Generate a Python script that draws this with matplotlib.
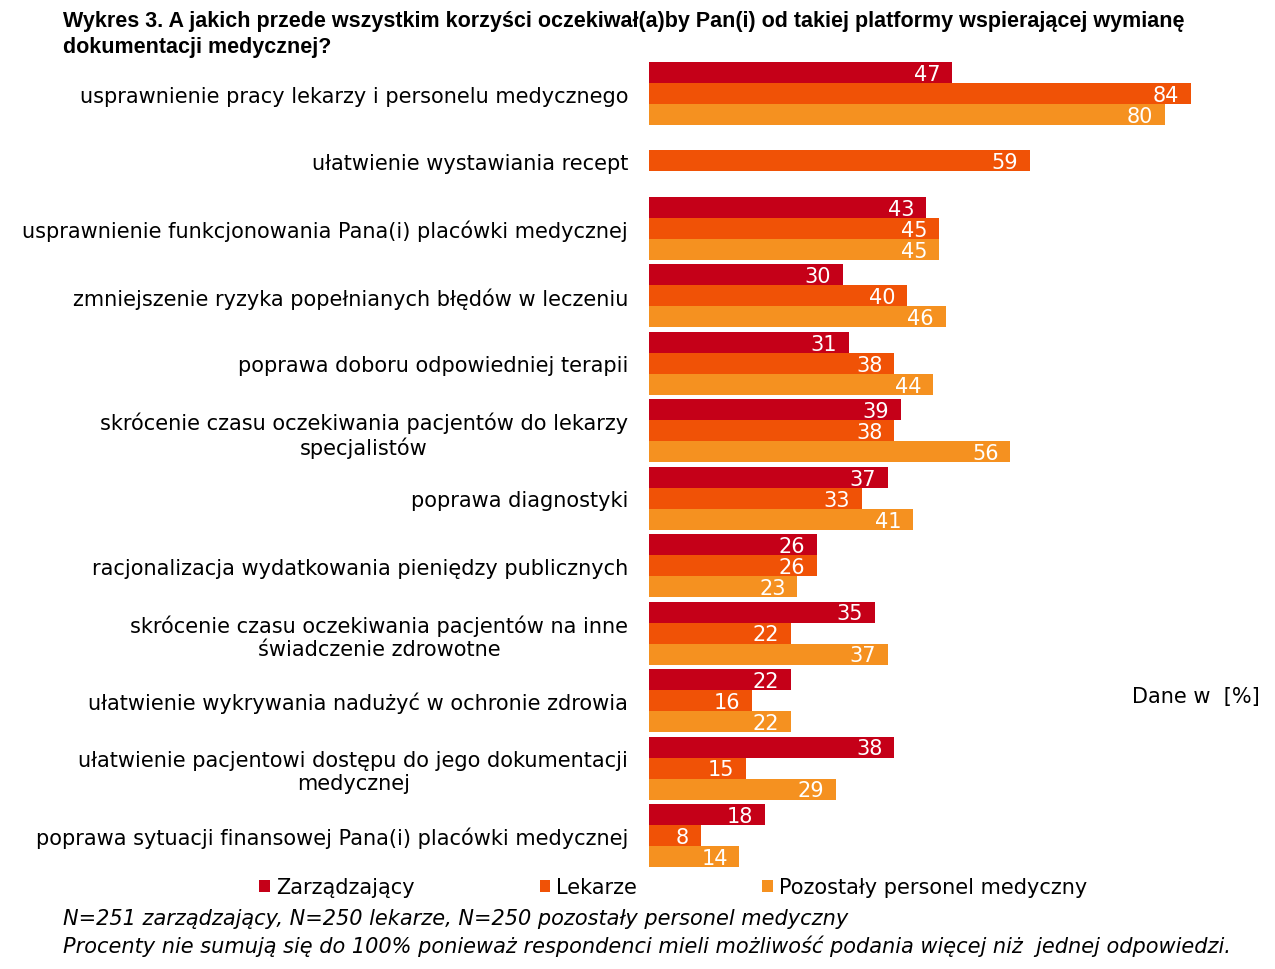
import numpy as np
import matplotlib.pyplot as plt

categories = [
    "usprawnienie pracy lekarzy i personelu medycznego",
    "ułatwienie wystawiania recept",
    "usprawnienie funkcjonowania Pana(i) placówki medycznej",
    "zmniejszenie ryzyka popełnianych błędów w leczeniu",
    "poprawa doboru odpowiedniej terapii",
    "skrócenie czasu oczekiwania pacjentów do lekarzy\nspecjalistów",
    "poprawa diagnostyki",
    "racjonalizacja wydatkowania pieniędzy publicznych",
    "skrócenie czasu oczekiwania pacjentów na inne\nświadczenie zdrowotne",
    "ułatwienie wykrywania nadużyć w ochronie zdrowia",
    "ułatwienie pacjentowi dostępu do jego dokumentacji\nmedycznej",
    "poprawa sytuacji finansowej Pana(i) placówki medycznej",
]
zarzadzajacy = [47, np.nan, 43, 30, 31, 39, 37, 26, 35, 22, 38, 18]
lekarze = [84, 59, 45, 40, 38, 38, 33, 26, 22, 16, 15, 8]
pozostali = [80, np.nan, 45, 46, 44, 56, 41, 23, 37, 22, 29, 14]
series_names = ["Zarządzający", "Lekarze", "Pozostały personel medyczny"]
colors = ["#C50018", "#F05206", "#F59120"]

fig = plt.figure(figsize=(12.75, 9.7), dpi=100)
ax = fig.add_axes([649 / 1275, 1 - 870.2 / 970, 580.5 / 1275, 809.4 / 970])

y = np.arange(len(categories))
h = 21 / 67.45
handles = []
for k, (vals, col, name) in enumerate(zip([zarzadzajacy, lekarze, pozostali], colors, series_names)):
    pos = y + (k - 1) * h
    bars = ax.barh(pos, vals, height=h, color=col, label=name)
    handles.append(bars)
    for p, v in zip(pos, vals):
        if not np.isnan(v):
            ax.text(v - 1.8, p + 0.02, f"{v:.0f}", ha="right", va="center",
                    color="white", fontsize=15)

ax.set_xlim(0, 90)
ax.set_ylim(11.5, -0.5)
ax.set_yticks(y)
ax.set_yticklabels(categories, fontsize=15, multialignment="center")
ax.tick_params(axis="y", length=0, pad=15)
ax.set_xticks([])
for s in ax.spines.values():
    s.set_visible(False)

fig.text(63 / 1275, 1 - 11 / 970,
         "Wykres 3. A jakich przede wszystkim korzyści oczekiwał(a)by Pan(i) od takiej platformy wspierającej wymianę\ndokumentacji medycznej?",
         fontsize=15.5, fontweight="bold", va="top", ha="left",
         family=["Liberation Sans", "DejaVu Sans"], linespacing=1.3)
fig.text(1132 / 1275, 1 - 697 / 970, "Dane w  [%]", fontsize=15, va="center")

fig.legend(handles=handles, loc="center left", bbox_to_anchor=(249 / 1275, 1 - 888 / 970),
           ncol=3, frameon=False, fontsize=15, handlelength=0.5, handleheight=0.5,
           handletextpad=0.3, columnspacing=6.0, borderpad=0)

fig.text(63 / 1275, 1 - 919 / 970,
         "N=251 zarządzający, N=250 lekarze, N=250 pozostały personel medyczny",
         fontsize=15, style="italic", va="center")
fig.text(63 / 1275, 1 - 946 / 970,
         "Procenty nie sumują się do 100% ponieważ respondenci mieli możliwość podania więcej niż  jednej odpowiedzi.",
         fontsize=15, style="italic", va="center")

plt.savefig("out.png")
